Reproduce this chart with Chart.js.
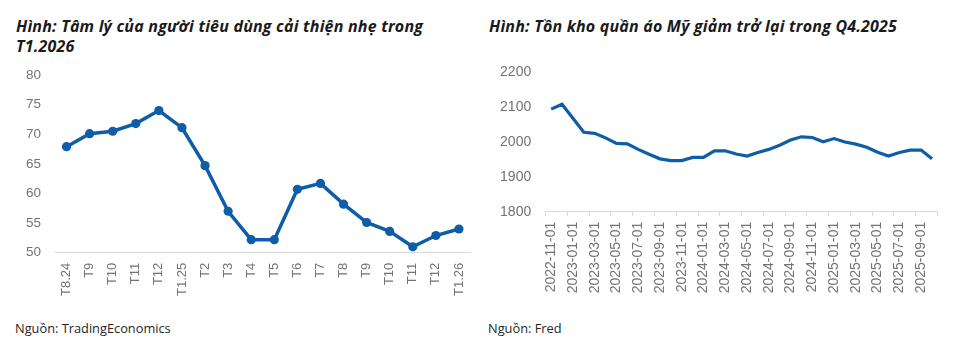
<!DOCTYPE html>
<html>
<head>
<meta charset="utf-8">
<script src="https://cdn.jsdelivr.net/npm/chart.js@4"></script>
<style>
  html, body { margin: 0; padding: 0; background: #ffffff; }
  body { width: 955px; height: 356px; position: relative; overflow: hidden; }
  .title { position: absolute; font-family: "Open Sans", "Lato", sans-serif; font-weight: bold; font-style: italic; font-size: 16px; line-height: 19.5px; color: #1a1a1a; white-space: nowrap; letter-spacing: 0.2px; }
  .src { position: absolute; font-family: "Open Sans", "Lato", sans-serif; font-size: 12.8px; color: #262626; white-space: nowrap; }
  canvas { position: absolute; }
</style>
</head>
<body>
<div class="title" style="left:16px; top:17px;">Hình: Tâm lý của người tiêu dùng cải thiện nhẹ trong<br>T1.2026</div>
<div class="title" style="left:489px; top:17px;">Hình: Tồn kho quần áo Mỹ giảm trở lại trong Q4.2025</div>
<canvas id="left" width="480" height="250" style="left:0px; top:60px;"></canvas>
<canvas id="right" width="475" height="250" style="left:480px; top:60px;"></canvas>
<div class="src" style="left:15px; top:319px;">Nguồn: TradingEconomics</div>
<div class="src" style="left:488px; top:319px;">Nguồn: Fred</div>
<script>
const sentimentLabels = ['T8.24','T9','T10','T11','T12','T1.25','T2','T3','T4','T5','T6','T7','T8','T9','T10','T11','T12','T1.26'];
const sentimentValues = [67.9,70.1,70.5,71.8,74.0,71.1,64.7,57.0,52.2,52.2,60.7,61.7,58.2,55.1,53.6,51.0,52.9,54.0];
const sentimentTicks = [50,55,60,65,70,75,80];

const inventoryLabels = ['2022-11-01','2022-12-01','2023-01-01','2023-02-01','2023-03-01','2023-04-01','2023-05-01','2023-06-01','2023-07-01','2023-08-01','2023-09-01','2023-10-01','2023-11-01','2023-12-01','2024-01-01','2024-02-01','2024-03-01','2024-04-01','2024-05-01','2024-06-01','2024-07-01','2024-08-01','2024-09-01','2024-10-01','2024-11-01','2024-12-01','2025-01-01','2025-02-01','2025-03-01','2025-04-01','2025-05-01','2025-06-01','2025-07-01','2025-08-01','2025-09-01','2025-10-01'];
const inventoryValues = [2093,2107,2067,2027,2024,2011,1995,1994,1978,1964,1951,1946,1946,1955,1955,1974,1974,1965,1959,1969,1978,1990,2005,2014,2012,2000,2009,1999,1993,1984,1970,1959,1969,1976,1976,1951];
const inventoryTicks = [1800,1900,2000,2100,2200];

const BLUE = '#0f5da9';
const TICK_COLOR = '#737373';
const AXIS_COLOR = '#d9d9d9';
const FONT = '"Liberation Sans", Arial, sans-serif';

new Chart(document.getElementById('left'), {
  type: 'line',
  data: {
    labels: sentimentLabels,
    datasets: [{
      data: sentimentValues,
      borderColor: BLUE,
      backgroundColor: BLUE,
      borderWidth: 3.5,
      pointRadius: 4.6,
      pointBackgroundColor: BLUE,
      pointBorderColor: BLUE,
      pointBorderWidth: 0,
      tension: 0
    }]
  },
  options: {
    responsive: false,
    animation: false,
    layout: { padding: { top: 15, right: 9.5, left: 0, bottom: 0 } },
    plugins: { legend: { display: false }, tooltip: { enabled: false } },
    scales: {
      x: {
        type: 'category',
        offset: true,
        grid: { drawOnChartArea: false, drawTicks: true, tickLength: 8, color: 'transparent' },
        border: { display: true, color: AXIS_COLOR, width: 1 },
        ticks: { autoSkip: false, maxRotation: 90, minRotation: 90, padding: 2, color: TICK_COLOR, font: { family: FONT, size: 13 } },
        afterFit: (s) => { s.height = 57.3; }
      },
      y: {
        min: 50, max: 80,
        afterBuildTicks: (s) => { s.ticks = sentimentTicks.map(v => ({ value: v })); },
        grid: { drawOnChartArea: false, drawTicks: true, tickLength: 11, color: 'transparent' },
        border: { display: false },
        ticks: { padding: 3, color: TICK_COLOR, font: { family: FONT, size: 13.5 }, callback: (v) => String(v) },
        afterFit: (s) => { s.width = 55; }
      }
    }
  }
});

new Chart(document.getElementById('right'), {
  type: 'line',
  data: {
    labels: inventoryLabels,
    datasets: [{
      data: inventoryValues,
      borderColor: BLUE,
      backgroundColor: BLUE,
      borderWidth: 3.2,
      pointRadius: 0,
      tension: 0
    }]
  },
  options: {
    responsive: false,
    animation: false,
    layout: { padding: { top: 11.7, right: 13, left: 0, bottom: 0 } },
    plugins: { legend: { display: false }, tooltip: { enabled: false } },
    scales: {
      x: {
        type: 'category',
        offset: true,
        grid: {
          offset: true,
          drawOnChartArea: false,
          drawTicks: true,
          tickLength: 4,
          color: (ctx) => (ctx.index === undefined || ctx.index % 2 === 0) ? AXIS_COLOR : 'transparent'
        },
        border: { display: true, color: AXIS_COLOR, width: 1 },
        ticks: {
          autoSkip: false, maxRotation: 90, minRotation: 90, padding: 6,
          color: TICK_COLOR, font: { family: FONT, size: 14 },
          callback: function (v, i) { return i % 2 === 0 ? this.getLabelForValue(v) : ''; }
        },
        afterFit: (s) => { s.height = 98.3; }
      },
      y: {
        min: 1800, max: 2200,
        afterBuildTicks: (s) => { s.ticks = inventoryTicks.map(v => ({ value: v })); },
        grid: { drawOnChartArea: false, drawTicks: true, tickLength: 11.5, color: 'transparent' },
        border: { display: false },
        ticks: { padding: 3, color: TICK_COLOR, font: { family: FONT, size: 14 }, callback: (v) => String(v) },
        afterFit: (s) => { s.width = 65.7; }
      }
    }
  }
});
</script>
</body>
</html>
